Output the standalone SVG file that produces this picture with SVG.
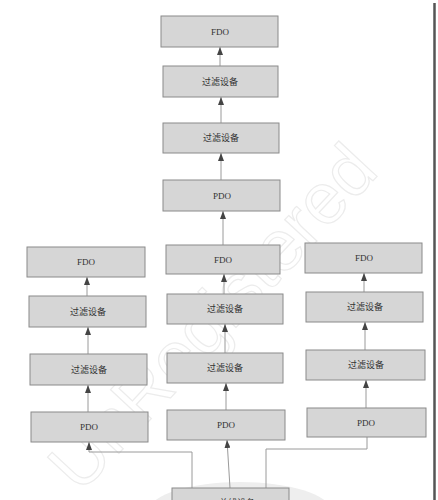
<svg xmlns="http://www.w3.org/2000/svg" width="438" height="500" viewBox="0 0 438 500">
<defs>
<style>
.box{fill:#d6d6d6;stroke:#8a8a8a;stroke-width:1}
.lbl{font-family:"Liberation Serif","Noto Sans CJK SC",serif;font-size:9px;fill:#333;text-anchor:middle;dominant-baseline:central}
.con{fill:none;stroke:#9a9a9a;stroke-width:1}
.wm{font-family:"Liberation Sans",sans-serif;font-size:72px;fill:none;stroke:#ececec;stroke-width:1.2}
</style>
<marker id="arr" viewBox="0 0 8 6" refX="8" refY="3" markerWidth="8" markerHeight="6" orient="auto" markerUnits="userSpaceOnUse">
<path d="M0,0 L8,3 L0,6 Z" fill="#444"/>
</marker>
</defs>
<rect width="438" height="500" fill="#ffffff"/>
<ellipse cx="240" cy="510" rx="90" ry="28" fill="#eeeeee"/>
<text class="wm" transform="translate(80,495) rotate(-47)">UnRegistered</text>
<line x1="434.5" y1="3" x2="434.5" y2="500" stroke="#555" stroke-width="2.5"/>

<g id="connectors">
<line class="con" x1="220" y1="66" x2="220" y2="47" marker-end="url(#arr)"/>
<line class="con" x1="221" y1="123" x2="221" y2="97" marker-end="url(#arr)"/>
<line class="con" x1="221" y1="180" x2="221" y2="153" marker-end="url(#arr)"/>
<line class="con" x1="223" y1="245" x2="223" y2="211" marker-end="url(#arr)"/>
<line class="con" x1="224" y1="294" x2="224" y2="274" marker-end="url(#arr)"/>
<line class="con" x1="225" y1="353" x2="225" y2="324" marker-end="url(#arr)"/>
<line class="con" x1="226" y1="410" x2="226" y2="383" marker-end="url(#arr)"/>
<line class="con" x1="87" y1="296" x2="87" y2="277" marker-end="url(#arr)"/>
<line class="con" x1="88" y1="354" x2="88" y2="327" marker-end="url(#arr)"/>
<line class="con" x1="88" y1="412" x2="88" y2="385" marker-end="url(#arr)"/>
<line class="con" x1="364" y1="292" x2="364" y2="273" marker-end="url(#arr)"/>
<line class="con" x1="365" y1="350" x2="365" y2="322" marker-end="url(#arr)"/>
<line class="con" x1="366" y1="408" x2="366" y2="380" marker-end="url(#arr)"/>
<line class="con" x1="230" y1="488" x2="227" y2="440" marker-end="url(#arr)"/>
<polyline class="con" points="192,488 192,452 89,452 89,442" marker-end="url(#arr)"/>
<polyline class="con" points="266,488 266,449 367,449 367,437"/>
</g>

<g id="top_fdo"><rect class="box" x="161" y="16" width="117" height="31"/><text class="lbl" x="220" y="32">FDO</text></g>
<g id="top_filter1"><rect class="box" x="163" y="66" width="115" height="31"/><text class="lbl" x="220" y="82">过滤设备</text></g>
<g id="top_filter2"><rect class="box" x="163" y="123" width="116" height="30"/><text class="lbl" x="221" y="138">过滤设备</text></g>
<g id="top_pdo"><rect class="box" x="163" y="180" width="117" height="31"/><text class="lbl" x="222" y="196">PDO</text></g>

<g id="mid_fdo"><rect class="box" x="166" y="245" width="114" height="29"/><text class="lbl" x="223" y="260">FDO</text></g>
<g id="mid_filter1"><rect class="box" x="167" y="294" width="116" height="30"/><text class="lbl" x="225" y="309">过滤设备</text></g>
<g id="mid_filter2"><rect class="box" x="167" y="353" width="116" height="30"/><text class="lbl" x="225" y="368">过滤设备</text></g>
<g id="mid_pdo"><rect class="box" x="167" y="410" width="118" height="30"/><text class="lbl" x="226" y="425">PDO</text></g>

<g id="left_fdo"><rect class="box" x="27" y="247" width="118" height="30"/><text class="lbl" x="86" y="262">FDO</text></g>
<g id="left_filter1"><rect class="box" x="29" y="296" width="117" height="31"/><text class="lbl" x="88" y="312">过滤设备</text></g>
<g id="left_filter2"><rect class="box" x="30" y="354" width="117" height="31"/><text class="lbl" x="89" y="370">过滤设备</text></g>
<g id="left_pdo"><rect class="box" x="31" y="412" width="117" height="30"/><text class="lbl" x="89" y="427">PDO</text></g>

<g id="right_fdo"><rect class="box" x="305" y="243" width="117" height="30"/><text class="lbl" x="364" y="258">FDO</text></g>
<g id="right_filter1"><rect class="box" x="306" y="292" width="117" height="30"/><text class="lbl" x="365" y="307">过滤设备</text></g>
<g id="right_filter2"><rect class="box" x="306" y="350" width="119" height="30"/><text class="lbl" x="366" y="365">过滤设备</text></g>
<g id="right_pdo"><rect class="box" x="307" y="408" width="119" height="29"/><text class="lbl" x="366" y="423">PDO</text></g>

<g id="bus_device"><rect class="box" x="172" y="488" width="117" height="30"/><text class="lbl" x="230" y="503">PCI总线设备</text></g>
</svg>
